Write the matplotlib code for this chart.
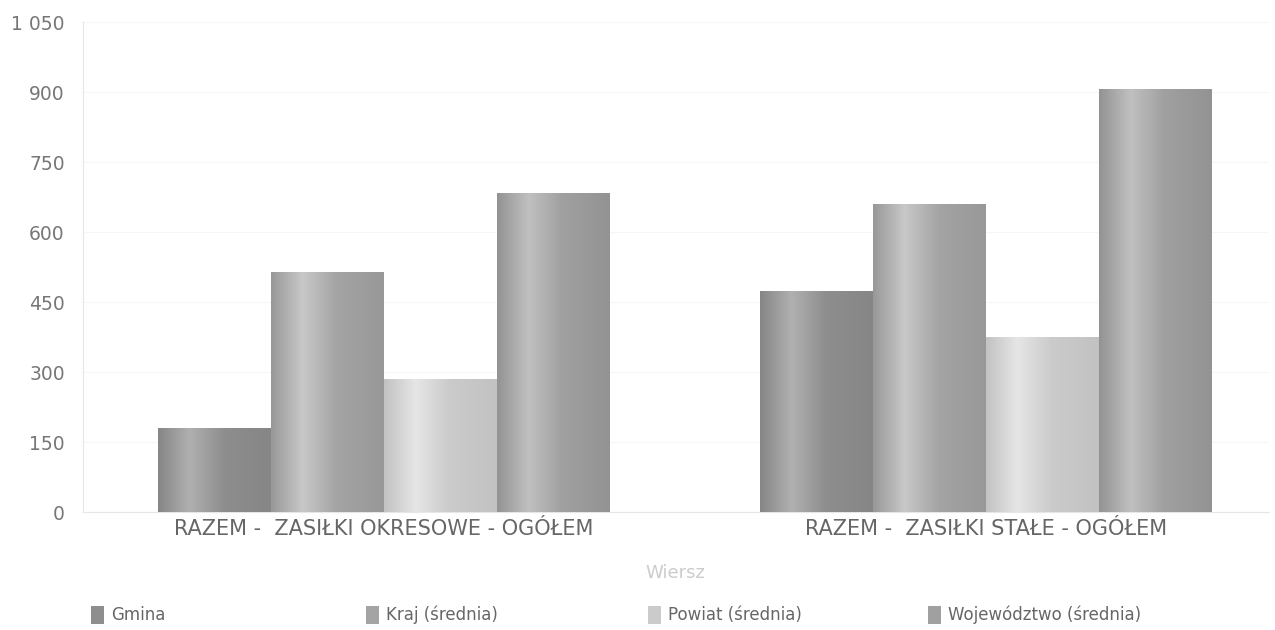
import numpy as np
import matplotlib
matplotlib.use("Agg")
import matplotlib.pyplot as plt
from matplotlib.colors import LinearSegmentedColormap
from matplotlib.patches import Patch
from matplotlib.ticker import FuncFormatter, MultipleLocator

categories = ["RAZEM -  ZASIŁKI OKRESOWE - OGÓŁEM", "RAZEM -  ZASIŁKI STAŁE - OGÓŁEM"]
series = ["Gmina", "Kraj (średnia)", "Powiat (średnia)", "Województwo (średnia)"]
gmina = [178, 472]
kraj = [512, 658]
powiat = [284, 374]
wojewodztwo = [682, 905]
values = [gmina, kraj, powiat, wojewodztwo]

# (edge, highlight, body) greys for each series
shades = [
    ("#868686", "#b0b0b0", "#8e8e8e"),
    ("#989898", "#c8c8c8", "#a4a4a4"),
    ("#c2c2c2", "#e6e6e6", "#cbcbcb"),
    ("#939393", "#c0c0c0", "#a0a0a0"),
]

plt.rcParams['font.family'] = ['DejaVu Sans']
fig = plt.figure(figsize=(12.75, 6.3), dpi=100)
ax = fig.add_axes([0.065, 0.187, 0.93, 0.778])

x = np.arange(len(categories))
width = 0.1875
for i, vals in enumerate(values):
    edge, hi, body = shades[i]
    cmap = LinearSegmentedColormap.from_list(
        "bar%d" % i, [(0, edge), (0.28, hi), (0.58, body), (1, edge)])
    bars = ax.bar(x + (i - 1.5) * width, vals, width, color=body, linewidth=0, zorder=2)
    grad = np.linspace(0, 1, 256)[None, :]
    for r in bars:
        ax.imshow(grad, extent=[r.get_x(), r.get_x() + r.get_width(), 0, r.get_height()],
                  aspect='auto', cmap=cmap, zorder=3, interpolation='bicubic')

ax.set_xlim(-0.5, 1.47)
ax.set_ylim(0, 1050)
ax.yaxis.set_major_locator(MultipleLocator(150))
ax.yaxis.set_major_formatter(FuncFormatter(lambda v, p: "{:,.0f}".format(v).replace(",", " ")))
ax.set_xticks(x)
ax.set_xticklabels(categories, fontsize=15, color="#666666")
ax.tick_params(length=0)
ax.tick_params(axis='y', pad=13, labelsize=13.5, labelcolor="#777777")
ax.tick_params(axis='x', pad=5)
ax.grid(axis='y', color="#f6f6f6", linewidth=0.8, zorder=0)

for s in ["top", "right"]:
    ax.spines[s].set_visible(False)
ax.spines["left"].set_color("#e6e6e6")
ax.spines["bottom"].set_color("#e6e6e6")

ax.set_xlabel("Wiersz", color="#cccccc", fontsize=13, labelpad=18)

legend_x = [91, 366, 648, 928]
for i, name in enumerate(series):
    edge, hi, body = shades[i]
    fig.legend([Patch(facecolor=body, edgecolor="none")], [name], loc="center left",
               bbox_to_anchor=(legend_x[i] / 1275, 1 - 615 / 630), frameon=False,
               fontsize=12, handlelength=0.8, handleheight=1.3, handletextpad=0.4,
               borderpad=0, borderaxespad=0, labelcolor="#666666")

fig.savefig("out.png", dpi=100)
